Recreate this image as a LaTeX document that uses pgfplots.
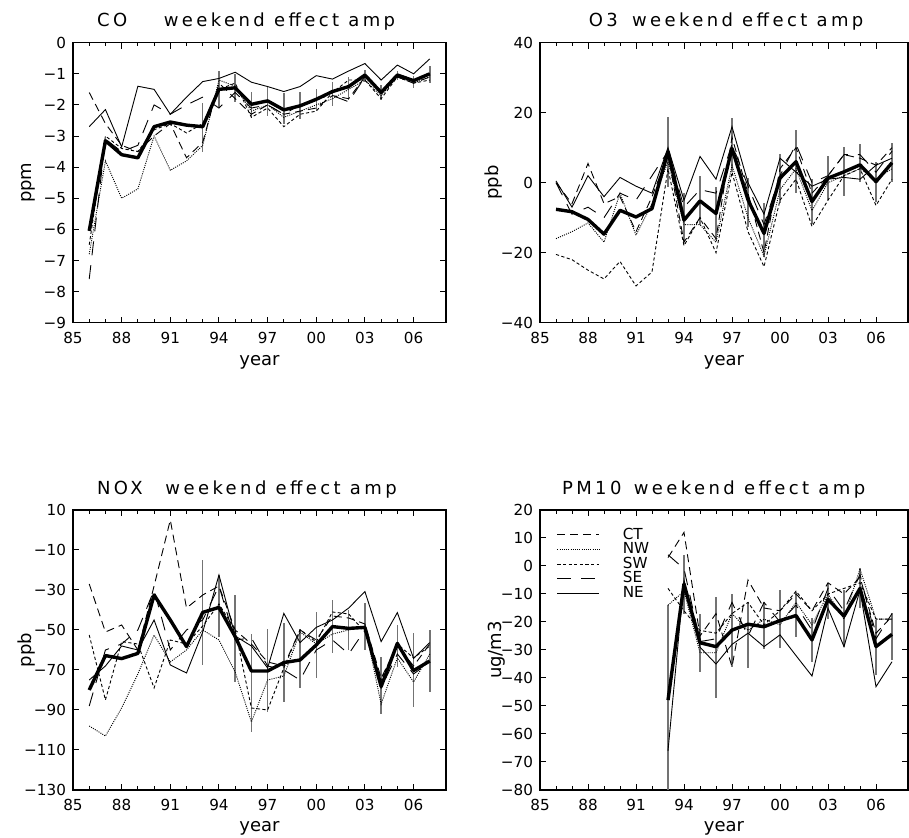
\documentclass[border=0pt]{standalone}
\usepackage{fontspec}
\setmainfont{DejaVu Sans}
\newfontfamily\titlefont[LetterSpace=19]{DejaVu Sans}
\usepackage{pgfplots}
\pgfplotsset{compat=1.18}
\newcommand\tickfont{\fontsize{7.6}{9}\selectfont}
\newcommand\labfont{\fontsize{9}{10}\selectfont}
\pgfplotsset{
  panel/.style={scale only axis, height=140pt, xmin=85, xmax=108,
    xtick={85,88,...,106}, xticklabels={85,88,91,94,97,00,03,06},
    minor x tick num=2, tick align=inside, major tick length=3pt, minor tick length=1.8pt,
    axis line style={line width=0.6pt}, every tick/.style={black, line width=0.5pt},
    tick label style={font=\tickfont}, xticklabel style={yshift=-1.2pt}, clip=true},
  CT/.style={black, line width=0.45pt, dash pattern=on 4pt off 2.5pt},
  NW/.style={black, line width=0.45pt, dash pattern=on 0.5pt off 0.6pt},
  SW/.style={black, line width=0.45pt, dash pattern=on 1.6pt off 1.2pt},
  SE/.style={black, line width=0.45pt, dash pattern=on 7pt off 5pt},
  NE/.style={black, line width=0.45pt},
  MN/.style={black, line width=1.7pt, line join=round},
  EB/.style={draw=none, mark=none, forget plot, error bars/.cd, y dir=both, y explicit,
    error mark=none, error bar style={draw=black!55, solid, line width=0.75pt}},
}
\begin{document}
\begin{tikzpicture}
\path[use as bounding box] (0,0) rectangle (454.5pt,419pt);

% ---------------- CO ----------------
\begin{axis}[panel, at={(36.5pt,257.65pt)}, anchor=south west, width=186.5pt,
  ymin=-9, ymax=0, ytick={-9,-8,...,0}, yticklabels={−9,−8,−7,−6,−5,−4,−3,−2,−1,0}]
\addplot[EB] coordinates {(93,-2.7) += (0,0.76) -= (0,0.8) (94,-1.5) += (0,0.6) -= (0,0.56)
 (95,-1.45) += (0,0.45) -= (0,0.45) (96,-2.0) += (0,0.4) -= (0,0.4) (97,-1.85) += (0,0.45) -= (0,0.5)
 (98,-2.15) += (0,0.52) -= (0,0.45) (99,-2.0) += (0,0.43) -= (0,0.45) (100,-1.8) += (0,0.3) -= (0,0.4)
 (101,-1.6) += (0,0.35) -= (0,0.43) (102,-1.4) += (0,0.31) -= (0,0.44) (103,-1.05) += (0,0.17) -= (0,0.2)
 (104,-1.6) += (0,0.24) -= (0,0.24) (105,-1.05) += (0,0.15) -= (0,0.15) (106,-1.22) += (0,0.15) -= (0,0.25)
 (107,-1.0) += (0,0.25) -= (0,0.3)};
\addplot[CT] coordinates {(86,-1.6)(87,-2.6)(88,-3.3)(89,-3.5)(90,-3.0)(91,-2.6)(92,-3.7)(93,-3.2)(94,-1.3)(95,-1.8)(96,-2.3)(97,-2.0)(98,-2.3)(99,-2.2)(100,-2.1)(101,-1.7)(102,-1.8)(103,-1.1)(104,-1.6)(105,-1.1)(106,-1.3)(107,-1.1)};
\addplot[NW] coordinates {(86,-6.8)(87,-3.8)(88,-5.0)(89,-4.7)(90,-3.0)(91,-4.1)(92,-3.8)(93,-3.3)(94,-1.2)(95,-1.4)(96,-2.2)(97,-2.0)(98,-2.4)(99,-2.2)(100,-2.0)(101,-1.8)(102,-1.5)(103,-1.2)(104,-1.7)(105,-1.1)(106,-1.3)(107,-1.1)};
\addplot[SW] coordinates {(86,-6.5)(87,-3.0)(88,-3.4)(89,-3.5)(90,-2.8)(91,-2.6)(92,-2.9)(93,-2.6)(94,-1.5)(95,-1.3)(96,-2.4)(97,-2.1)(98,-2.7)(99,-2.3)(100,-2.2)(101,-1.6)(102,-1.2)(103,-1.2)(104,-1.8)(105,-1.1)(106,-1.3)(107,-1.2)};
\addplot[SE] coordinates {(86,-7.6)(87,-3.1)(88,-3.5)(89,-3.3)(90,-2.0)(91,-2.3)(92,-2.0)(93,-1.75)(94,-2.1)(95,-1.6)(96,-2.1)(97,-2.0)(98,-2.3)(99,-2.0)(100,-1.8)(101,-1.7)(102,-1.9)(103,-1.1)(104,-1.6)(105,-1.0)(106,-1.2)(107,-1.0)};
\addplot[NE] coordinates {(86,-2.7)(87,-2.15)(88,-3.35)(89,-1.4)(90,-1.5)(91,-2.3)(92,-1.75)(93,-1.25)(94,-1.15)(95,-0.95)(96,-1.27)(97,-1.41)(98,-1.57)(99,-1.41)(100,-1.06)(101,-1.17)(102,-0.91)(103,-0.67)(104,-1.2)(105,-0.72)(106,-1.0)(107,-0.52)};
\addplot[MN] coordinates {(86,-6.05)(87,-3.15)(88,-3.6)(89,-3.7)(90,-2.7)(91,-2.55)(92,-2.65)(93,-2.7)(94,-1.5)(95,-1.45)(96,-1.98)(97,-1.87)(98,-2.16)(99,-2.03)(100,-1.82)(101,-1.57)(102,-1.41)(103,-1.04)(104,-1.6)(105,-1.04)(106,-1.22)(107,-1.0)};
\end{axis}

% ---------------- O3 ----------------
\begin{axis}[panel, at={(270pt,257.65pt)}, anchor=south west, width=184pt,
  ymin=-40, ymax=40, ytick={-40,-20,0,20,40}, yticklabels={−40,−20,0,20,40}]
\addplot[EB] coordinates {(93,8.9) += (0,10) -= (0,10) (94,-10.7) += (0,7.7) -= (0,6.2)
 (95,-5.2) += (0,7) -= (0,7) (96,-8.8) += (0,7.7) -= (0,7.6) (97,9.8) += (0,8.6) -= (0,6.7)
 (98,-4.9) += (0,6.2) -= (0,7.7) (99,-14.5) += (0,8.6) -= (0,6.6) (100,1.3) += (0,7) -= (0,7)
 (101,6.0) += (0,9) -= (0,9) (102,-5.4) += (0,6.5) -= (0,6.5) (103,1.3) += (0,6.3) -= (0,6.3)
 (104,3.1) += (0,7) -= (0,7) (105,5.1) += (0,6) -= (0,5) (106,0.3) += (0,5.7) -= (0,5.7)
 (107,5.7) += (0,5.6) -= (0,5.6)};
\addplot[CT] coordinates {(86,0)(87,-6)(88,5.5)(89,-6)(90,-4)(91,-14)(92,-4)(93,8)(94,-17)(95,-10)(96,-16)(97,13)(98,-3)(99,-20)(100,4)(101,10)(102,-3)(103,2)(104,8)(105,7)(106,5)(107,10)};
\addplot[NW] coordinates {(86,-16)(87,-14)(88,-11.5)(89,-17)(90,-3)(91,-15)(92,-6)(93,6)(94,-12)(95,-12)(96,-17)(97,5)(98,-10)(99,-21)(100,-2)(101,4)(102,-8)(103,0)(104,2)(105,4)(106,1)(107,4)};
\addplot[SW] coordinates {(86,-20.5)(87,-22)(88,-25)(89,-27.5)(90,-22.5)(91,-29.5)(92,-25.5)(93,4)(94,-18)(95,-10)(96,-20)(97,3)(98,-14)(99,-24)(100,-5)(101,1)(102,-12.5)(103,-5)(104,2)(105,4)(106,-6.5)(107,1)};
\addplot[SE] coordinates {(86,0)(87,-9)(88,-7)(89,-10)(90,-3)(91,-5)(92,2)(93,9)(94,-7)(95,-2)(96,-3)(97,11)(98,-1)(99,-12)(100,2)(101,11)(102,0)(103,2)(104,8)(105,8)(106,3)(107,9)};
\addplot[NE] coordinates {(86,0.5)(87,-7)(88,2)(89,-4)(90,1.5)(91,-1)(92,-3)(93,10)(94,-5)(95,7.5)(96,1)(97,16)(98,0)(99,-9)(100,7)(101,3)(102,-1)(103,1)(104,1.5)(105,1)(106,5)(107,7)};
\addplot[MN] coordinates {(86,-7.6)(87,-8.3)(88,-10.5)(89,-14.7)(90,-7.9)(91,-9.8)(92,-7.4)(93,8.9)(94,-10.7)(95,-5.2)(96,-8.8)(97,9.8)(98,-4.9)(99,-14.5)(100,1.3)(101,6.0)(102,-5.4)(103,1.3)(104,3.1)(105,5.1)(106,0.3)(107,5.7)};
\end{axis}

% ---------------- NOX ----------------
\begin{axis}[panel, at={(36.5pt,24pt)}, anchor=south west, width=186.5pt,
  ymin=-130, ymax=10, ytick={-130,-110,...,10}, yticklabels={−130,−110,−90,−70,−50,−30,−10,10}]
\addplot[EB] coordinates {(93,-41.2) += (0,26.2) -= (0,26.3) (94,-38.7) += (0,16.2) -= (0,14.6)
 (95,-53.3) += (0,20.8) -= (0,22.5) (96,-70.5) += (0,18.5) -= (0,30.5) (97,-70.5) += (0,20.8) -= (0,20.3)
 (98,-66.3) += (0,19.6) -= (0,19.5) (99,-65) += (0,15.5) -= (0,14) (100,-57.5) += (0,16.7) -= (0,16.7)
 (101,-48.3) += (0,13.3) -= (0,13.4) (102,-49.2) += (0,9.2) -= (0,10.8) (103,-48.7) += (0,12) -= (0,11.3)
 (104,-78.3) += (0,15) -= (0,13.7) (105,-56.7) += (0,9.2) -= (0,11.6) (106,-70.3) += (0,18.6) -= (0,18)
 (107,-65.5) += (0,15.5) -= (0,15.3)};
\addplot[CT] coordinates {(86,-27)(87,-51)(88,-47.5)(89,-60)(90,-28)(91,5)(92,-39)(93,-32.5)(94,-28)(95,-50)(96,-57)(97,-66)(98,-68)(99,-50)(100,-55)(101,-43)(102,-44)(103,-47)(104,-74)(105,-58)(106,-68)(107,-57)};
\addplot[NW] coordinates {(86,-98)(87,-103)(88,-89)(89,-72)(90,-52.5)(91,-66)(92,-60)(93,-50)(94,-55)(95,-71)(96,-96)(97,-75)(98,-73)(99,-51)(100,-57)(101,-52)(102,-50)(103,-48)(104,-87)(105,-64)(106,-76)(107,-62)};
\addplot[SW] coordinates {(86,-52.5)(87,-85)(88,-55.8)(89,-57)(90,-79)(91,-55)(92,-57)(93,-48)(94,-37)(95,-50)(96,-89)(97,-90)(98,-69)(99,-50)(100,-56)(101,-41)(102,-42)(103,-51)(104,-75)(105,-57)(106,-64)(107,-58)};
\addplot[SE] coordinates {(86,-88)(87,-60)(88,-57)(89,-50)(90,-30)(91,-60)(92,-50)(93,-45)(94,-28)(95,-55)(96,-54)(97,-68)(98,-70)(99,-75)(100,-60)(101,-55)(102,-62)(103,-50)(104,-79)(105,-62)(106,-72)(107,-66)};
\addplot[NE] coordinates {(86,-75)(87,-68)(88,-58)(89,-60)(90,-45)(91,-67.5)(92,-71.5)(93,-51)(94,-22.5)(95,-53)(96,-58)(97,-69)(98,-41.7)(99,-56.3)(100,-48.7)(101,-45)(102,-39)(103,-30.8)(104,-55.8)(105,-41.3)(106,-64.2)(107,-56.3)};
\addplot[MN] coordinates {(86,-80)(87,-62.8)(88,-64.3)(89,-61.7)(90,-32.5)(91,-45)(92,-58.3)(93,-41.2)(94,-38.7)(95,-53.3)(96,-70.5)(97,-70.5)(98,-66.3)(99,-65)(100,-57.5)(101,-48.3)(102,-49.2)(103,-48.7)(104,-78.3)(105,-56.7)(106,-70.3)(107,-65.5)};
\end{axis}

% ---------------- PM10 ----------------
\begin{axis}[panel, at={(270pt,24pt)}, anchor=south west, width=184pt,
  ymin=-80, ymax=20, ytick={-80,-70,...,20}, yticklabels={−80,−70,−60,−50,−40,−30,−20,−10,0,10,20},
  legend image code/.code={\draw[#1] (0pt,0pt) -- (21pt,0pt);},
  legend cell align=left,
  legend style={draw=none, fill=none, font=\tickfont, at={(axis description cs:0.045,0.945)}, anchor=north west,
    inner sep=0pt, row sep=-1.8pt, nodes={inner sep=1pt},
    /tikz/every odd column/.append style={column sep=10.5pt}}]
\addplot[EB] coordinates {(93,-47.9) += (0,34) -= (0,34) (94,-6.4) += (0,10.4) -= (0,10.6)
 (95,-27.4) += (0,10.4) -= (0,10.6) (96,-28.8) += (0,17.8) -= (0,18.2) (97,-22.9) += (0,12.9) -= (0,13.1)
 (98,-20.8) += (0,8) -= (0,15.5) (99,-21.7) += (0,9) -= (0,8) (100,-19.5) += (0,10.9) -= (0,9.9)
 (101,-17.7) += (0,8.5) -= (0,7.5) (102,-26.4) += (0,7.7) -= (0,7.8) (103,-11.9) += (0,6) -= (0,7)
 (104,-17.9) += (0,9.3) -= (0,10.9) (105,-8) += (0,7.2) -= (0,7.1) (106,-28.8) += (0,9.5) -= (0,10.1)
 (107,-24.4) += (0,7.5) -= (0,9.2)};
\addplot[CT] coordinates {(93,3)(94,12)(95,-25)(96,-17)(97,-36)(98,-5)(99,-15)(100,-16)(101,-10)(102,-16)(103,-6)(104,-10)(105,-4)(106,-24)(107,-18)};
\addplot[NW] coordinates {(93,-14)(94,-9)(95,-31)(96,-31)(97,-17)(98,-23)(99,-19)(100,-21)(101,-13)(102,-21)(103,-10)(104,-19)(105,-1)(106,-19)(107,-19)};
\addplot[SW] coordinates {(93,-8)(94,-16)(95,-23)(96,-24)(97,-17)(98,-13)(99,-21)(100,-16)(101,-9)(102,-16)(103,-10)(104,-8)(105,-6)(106,-19)(107,-19)};
\addplot[SE] coordinates {(93,4)(94,-1)(95,-27)(96,-26)(97,-13)(98,-25)(99,-13)(100,-20)(101,-14)(102,-23)(103,-8)(104,-16)(105,-3)(106,-26)(107,-17)};
\addplot[NE] coordinates {(93,-66)(94,-5)(95,-29)(96,-35)(97,-28)(98,-24)(99,-28.8)(100,-24.6)(101,-32)(102,-39.3)(103,-15.1)(104,-28.8)(105,-8.6)(106,-43.1)(107,-34.2)};
\addplot[MN] coordinates {(93,-47.9)(94,-6.4)(95,-27.4)(96,-28.8)(97,-22.9)(98,-20.8)(99,-21.7)(100,-19.5)(101,-17.7)(102,-26.4)(103,-11.9)(104,-17.9)(105,-8)(106,-28.8)(107,-24.4)};
\legend{CT,NW,SW,SE,NE}
\end{axis}

% ---------------- titles and labels ----------------
\begin{scope}[every node/.style={inner sep=0pt}]
\node[anchor=base west, font=\titlefont\labfont] at (48.35pt,405.5pt) {CO};
\node[anchor=base west, font=\titlefont\labfont] at (81.7pt,405.5pt) {weekend effect amp};
\node[anchor=base west, font=\titlefont\labfont] at (294.2pt,405.5pt) {O3};
\node[anchor=base west, font=\titlefont\labfont] at (315.8pt,405.5pt) {weekend effect amp};
\node[anchor=base west, font=\titlefont\labfont] at (48.35pt,171.85pt) {NOX};
\node[anchor=base west, font=\titlefont\labfont] at (82.5pt,171.85pt) {weekend effect amp};
\node[anchor=base west, font=\titlefont\labfont] at (280.8pt,171.85pt) {PM10};
\node[anchor=base west, font=\titlefont\labfont] at (316.7pt,171.85pt) {weekend effect amp};
\node[anchor=base, font=\labfont] at (129.75pt,236pt) {year};
\node[anchor=base, font=\labfont] at (362pt,236pt) {year};
\node[anchor=base, font=\labfont] at (129.75pt,3pt) {year};
\node[anchor=base, font=\labfont] at (362pt,3pt) {year};
\node[anchor=base, rotate=90, font=\labfont] at (15.5pt,327.65pt) {ppm};
\node[anchor=base, rotate=90, font=\labfont] at (249pt,327.65pt) {ppb};
\node[anchor=base, rotate=90, font=\labfont] at (15.5pt,94pt) {ppb};
\node[anchor=base, rotate=90, font=\labfont] at (250.5pt,94pt) {ug/m3};
\end{scope}
\end{tikzpicture}
\end{document}
